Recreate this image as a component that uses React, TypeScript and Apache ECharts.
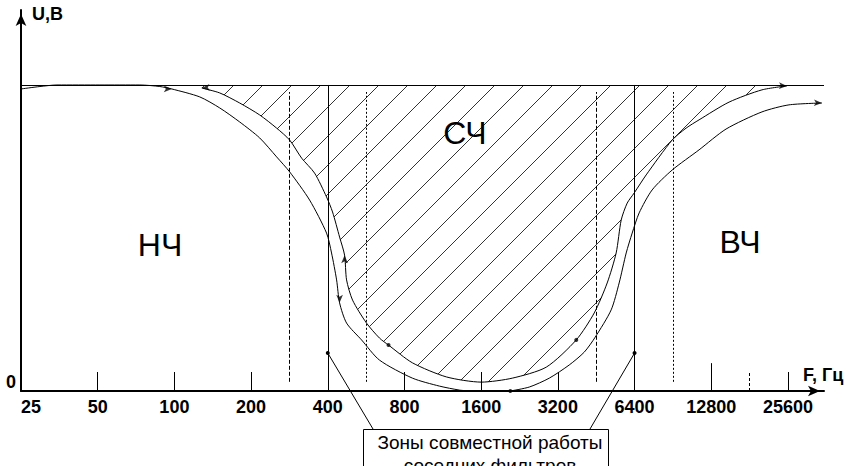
import React, { useEffect, useRef } from 'react';
import * as echarts from 'echarts';

// Frequency axis is logarithmic: position in octaves, 0 = 25 Hz, each step doubles.
const freqTickLabels = ['25', '50', '100', '200', '400', '800', '1600', '3200', '6400', '12800', '25600'];
const labelOctaves = [0, 1, 2, 3, 4, 5, 6, 7, 8, 9, 10];
const tickOctaves = [1, 2, 3, 5, 6, 7, 9, 10];

// НЧ (low-pass) filter response
const lfOct = [0, 0.247, 0.469, 1.029, 1.55, 1.81, 1.966, 2.331, 2.591, 2.852, 3.112, 3.333, 3.503, 3.763, 3.984, 4.049, 4.115, 4.154, 4.245, 4.44, 4.674, 5.104, 5.456, 5.716, 5.85];
const lfU = [0.987, 0.995, 1, 1, 1, 0.995, 0.987, 0.961, 0.925, 0.879, 0.827, 0.765, 0.716, 0.624, 0.516, 0.451, 0.363, 0.288, 0.222, 0.167, 0.101, 0.042, 0.016, 0.003, 0];

// СЧ (band-pass) filter response
const mfOct = [2.357, 2.591, 2.852, 3.112, 3.333, 3.503, 3.659, 3.828, 3.984, 4.062, 4.154, 4.219, 4.245, 4.323, 4.505, 4.674, 4.792, 5.104, 5.547, 6.003, 6.406, 6.849, 7.24, 7.474, 7.643, 7.76, 7.826, 7.904, 7.995, 8.151, 8.49, 8.672, 8.841, 9.232, 9.661, 9.987];
const mfU = [0.99, 0.974, 0.941, 0.902, 0.859, 0.82, 0.761, 0.712, 0.634, 0.585, 0.503, 0.444, 0.363, 0.297, 0.222, 0.173, 0.15, 0.092, 0.046, 0.029, 0.042, 0.078, 0.167, 0.255, 0.353, 0.451, 0.559, 0.614, 0.647, 0.706, 0.82, 0.859, 0.886, 0.944, 0.984, 0.997];

// ВЧ (high-pass) filter response
const hfOct = [6.38, 6.628, 6.888, 7.148, 7.344, 7.487, 7.695, 7.799, 7.891, 7.969, 8.06, 8.229, 8.49, 8.841, 9.193, 9.661, 10.013, 10.443];
const hfU = [0, 0.013, 0.042, 0.085, 0.127, 0.176, 0.265, 0.353, 0.451, 0.516, 0.582, 0.657, 0.722, 0.788, 0.856, 0.912, 0.935, 0.941];

const nominalLevel = 1;
const crossoverOct = [4, 8]; // 400 Hz, 6400 Hz
const zoneEdgeOct = [3.5, 4.5, 7.5, 8.5];
const zoneNames = ['НЧ', 'СЧ', 'ВЧ'];
const noteLines = ['Зоны совместной работы', 'соседних фильтров'];
const xAxisName = 'F, Гц';
const yAxisName = 'U,В';
const yZeroLabel = '0';

const FONT = '"Liberation Sans", Arial, sans-serif';
const X_MAX = 10.47;
const Y_MAX = 1.245;

const zip = (xs: number[], ys: number[]) => xs.map((x, i) => [x, ys[i]]);

export default function App() {
  const ref = useRef<HTMLDivElement>(null);

  useEffect(() => {
    if (!ref.current) return;
    const chart = echarts.init(ref.current, undefined, { renderer: 'svg' });

    const tile = 29;
    const cv = document.createElement('canvas');
    cv.width = tile;
    cv.height = tile;
    const ctx = cv.getContext('2d');
    if (ctx) {
      ctx.strokeStyle = 'rgba(0,0,0,0.8)';
      ctx.lineWidth = 1;
      [0, tile, 2 * tile].forEach((c) => {
        ctx.beginPath();
        ctx.moveTo(c + 2, -2);
        ctx.lineTo(-2, c + 2);
        ctx.stroke();
      });
    }
    const hatch: any = { image: cv, repeat: 'repeat', imageWidth: tile, imageHeight: tile };

    const black = '#000';
    const curveStyle = { color: black, width: 1 };

    const vLine = (x: number, y0: number, y1: number, style: any) => [
      { coord: [x, y0], lineStyle: style },
      { coord: [x, y1] },
    ];

    const guides: any[] = [
      [{ coord: [0, nominalLevel], lineStyle: { color: black, width: 1, type: 'solid' } }, { coord: [X_MAX, nominalLevel] }],
      ...crossoverOct.map((x) => vLine(x, 0, nominalLevel, { color: black, width: 1, type: 'solid' })),
      ...zoneEdgeOct.map((x, i) =>
        vLine(x, 0.03, 0.977, { color: black, width: 1, type: i % 2 === 0 ? [4, 2] : [2, 2] })
      ),
      vLine(9, 0, 0.091, { color: black, width: 1, type: 'solid' }),
      vLine(9.5, 0, 0.062, { color: black, width: 1, type: [3, 2] }),
      [
        { coord: [crossoverOct[0], 0.124], symbol: 'circle', symbolSize: 4, lineStyle: { color: black, width: 1, type: 'solid' } },
        { x: 373, y: 429, symbol: 'none' },
      ],
      [
        { coord: [crossoverOct[1], 0.124], symbol: 'circle', symbolSize: 4, lineStyle: { color: black, width: 1, type: 'solid' } },
        { x: 590, y: 429, symbol: 'none' },
      ],
    ];

    const arrow = (x: number, y: number, rot: number) => ({
      value: [x, y],
      symbol: 'arrow',
      symbolSize: [5, 8],
      symbolRotate: rot,
    });
    const dot = (x: number, y: number) => ({ value: [x, y], symbol: 'circle', symbolSize: 4 });
    const lastMf = mfOct.length - 1;
    const lastHf = hfOct.length - 1;
    const markers = [
      arrow(lfOct[6], lfU[6], -90),
      arrow(lfOct[17], lfU[17], 180),
      arrow(mfOct[0], mfU[0], 95),
      arrow(mfOct[11], mfU[11], 0),
      dot(mfOct[16], mfU[16]),
      dot(mfOct[22], mfU[22]),
      dot(hfOct[0], hfU[0]),
      arrow(mfOct[lastMf], mfU[lastMf], -92),
      arrow(hfOct[lastHf], hfU[lastHf], -92),
    ];

    const option: any = {
      animation: false,
      backgroundColor: '#fff',
      textStyle: { fontFamily: FONT, color: black },
      grid: { left: 21, right: 30, top: 10, bottom: 75, containLabel: false, outerBoundsMode: 'none' },
      xAxis: {
        type: 'value',
        min: 0,
        max: X_MAX,
        interval: 1,
        name: xAxisName,
        nameLocation: 'end',
        nameGap: -21,
        nameTextStyle: {
          fontSize: 18,
          fontWeight: 'bold',
          color: black,
          fontFamily: FONT,
          align: 'left',
          verticalAlign: 'bottom',
          padding: [0, 0, 7, 0],
        },
        axisLine: {
          show: true,
          onZero: false,
          lineStyle: { color: black, width: 2 },
          symbol: ['none', 'arrow'],
          symbolSize: [8, 12],
          symbolOffset: [0, -4],
        },
        axisTick: {
          show: true,
          inside: true,
          length: 19,
          customValues: tickOctaves,
          lineStyle: { color: black, width: 1 },
        },
        axisLabel: {
          show: true,
          customValues: labelOctaves,
          formatter: (v: number) => (Number.isInteger(v) && freqTickLabels[v] ? freqTickLabels[v] : ''),
          fontSize: 18,
          fontWeight: 'bold',
          color: black,
          fontFamily: FONT,
          margin: 7,
          alignMinLabel: 'left',
        },
        splitLine: { show: false },
      },
      yAxis: {
        type: 'value',
        min: 0,
        max: Y_MAX,
        name: yAxisName,
        nameLocation: 'end',
        nameGap: -4,
        nameTextStyle: {
          fontSize: 18,
          fontWeight: 'bold',
          color: black,
          fontFamily: FONT,
          align: 'left',
          verticalAlign: 'middle',
          padding: [0, 0, 0, 11],
        },
        axisLine: {
          show: true,
          onZero: false,
          lineStyle: { color: black, width: 2 },
          symbol: ['none', 'arrow'],
          symbolSize: [8, 12],
          symbolOffset: [0, -4],
        },
        axisTick: { show: false },
        axisLabel: {
          show: true,
          customValues: [0],
          formatter: (v: number) => (v === 0 ? yZeroLabel : ''),
          fontSize: 18,
          fontWeight: 'bold',
          color: black,
          fontFamily: FONT,
          margin: 5,
          verticalAlign: 'bottom',
        },
        splitLine: { show: false },
      },
      series: [
        {
          name: 'НЧ',
          type: 'line',
          data: zip(lfOct, lfU),
          smooth: 0.25,
          symbol: 'none',
          lineStyle: curveStyle,
          emphasis: { disabled: true },
          silent: true,
          z: 3,
          markLine: {
            silent: true,
            symbol: ['none', 'none'],
            label: { show: false },
            emphasis: { disabled: true },
            data: guides,
          },
        },
        {
          name: 'СЧ',
          type: 'line',
          data: zip(mfOct, mfU),
          smooth: 0.25,
          symbol: 'none',
          lineStyle: curveStyle,
          areaStyle: { color: hatch, opacity: 1, origin: nominalLevel },
          emphasis: { disabled: true },
          silent: true,
          z: 3,
        },
        {
          name: 'ВЧ',
          type: 'line',
          data: zip(hfOct, hfU),
          smooth: 0.25,
          symbol: 'none',
          lineStyle: curveStyle,
          emphasis: { disabled: true },
          silent: true,
          z: 3,
        },
        {
          name: 'markers',
          type: 'scatter',
          data: markers,
          itemStyle: { color: black },
          emphasis: { disabled: true },
          silent: true,
          z: 4,
        },
      ],
      graphic: [
        { type: 'text', x: 160, y: 245, style: { text: zoneNames[0], fontSize: 32, fontFamily: FONT, fill: black, align: 'center', verticalAlign: 'middle' } },
        { type: 'text', x: 465, y: 133, style: { text: zoneNames[1], fontSize: 32, fontFamily: FONT, fill: black, align: 'center', verticalAlign: 'middle' } },
        { type: 'text', x: 740, y: 242, style: { text: zoneNames[2], fontSize: 32, fontFamily: FONT, fill: black, align: 'center', verticalAlign: 'middle' } },
        {
          type: 'rect',
          shape: { x: 363.5, y: 429.5, width: 245, height: 60 },
          style: { fill: '#fff', stroke: black, lineWidth: 1 },
          z: 10,
        },
        { type: 'text', x: 490, y: 442, z: 11, style: { text: noteLines[0], fontSize: 19, fontFamily: FONT, fill: black, align: 'center', verticalAlign: 'middle' } },
        { type: 'text', x: 490, y: 465, z: 11, style: { text: noteLines[1], fontSize: 19, fontFamily: FONT, fill: black, align: 'center', verticalAlign: 'middle' } },
      ],
    };

    chart.setOption(option);
    return () => chart.dispose();
  }, []);

  return <div ref={ref} style={{ position: 'absolute', left: 0, top: 0, width: 854, height: 466 }} />;
}
